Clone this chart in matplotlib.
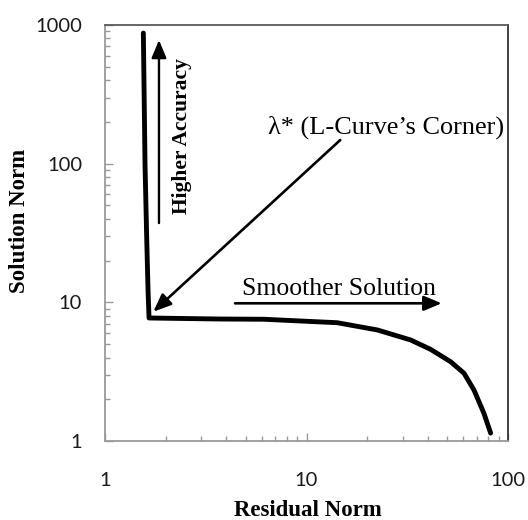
import matplotlib
matplotlib.use("Agg")
import matplotlib.pyplot as plt
from matplotlib.ticker import FixedLocator, LogLocator, NullFormatter

# L-curve: residual norm vs. solution norm
residual_norm = [1.55, 1.58, 1.61, 1.635, 1.654, 3.72, 6.15, 10.0, 14.2, 22.5,
                 32.9, 41.3, 51.9, 60.5, 67.8, 76.0, 82.0]
solution_norm = [875, 98, 29.6, 12.3, 7.71, 7.58, 7.55, 7.3, 7.13, 6.32,
                 5.35, 4.58, 3.73, 3.08, 2.33, 1.58, 1.14]

x_tick_values = [1, 10, 100]
x_tick_labels = ["1", "10", "100"]
y_tick_values = [1, 10, 100, 1000]
y_tick_labels = ["1", "10", "100", "1000"]

x_label = "Residual Norm"
y_label = "Solution Norm"
corner_text = "\u03bb* (L-Curve\u2019s Corner)"
smooth_text = "Smoother Solution"
accuracy_text = "Higher Accuracy"

# annotation arrows (data coordinates): (start, end)
accuracy_arrow = ((1.853, 37.3), (1.853, 779))
corner_arrow = ((14.7, 148), (1.737, 8.56))
smooth_arrow = ((4.42, 9.84), (46.9, 9.84))

SERIF = "Liberation Serif"
TICK_FONT = "Lato"
GRAY = "#9a9a9a"

fig = plt.figure(figsize=(5.28, 5.20), dpi=100)
ax = fig.add_axes([105 / 528, 79 / 520, 403 / 528, 416 / 520])

ax.plot(residual_norm, solution_norm, color="black", lw=3.5,
        solid_capstyle="round", solid_joinstyle="round")

ax.set_xscale("log")
ax.set_yscale("log")
ax.set_xlim(1, 100)
ax.set_ylim(1, 1000)

ax.xaxis.set_major_locator(FixedLocator(x_tick_values))
ax.set_xticklabels(x_tick_labels)
ax.yaxis.set_major_locator(FixedLocator(y_tick_values))
ax.set_yticklabels(y_tick_labels)
ax.xaxis.set_minor_locator(LogLocator(base=10, subs=range(2, 10)))
ax.yaxis.set_minor_locator(LogLocator(base=10, subs=range(2, 10)))
ax.xaxis.set_minor_formatter(NullFormatter())
ax.yaxis.set_minor_formatter(NullFormatter())

ax.tick_params(which="both", direction="in", color=GRAY, width=1.0,
               labelsize=14.5, labelcolor="#1a1a1a")
ax.tick_params(which="major", length=5.8)
ax.tick_params(which="minor", length=3.3)
ax.tick_params(axis="y", which="major", pad=16.5)
ax.tick_params(axis="x", which="major", pad=22)
for lab in ax.get_xticklabels() + ax.get_yticklabels():
    lab.set_fontfamily(TICK_FONT)

ax.spines["left"].set_color(GRAY)
ax.spines["bottom"].set_color(GRAY)
ax.spines["top"].set_color("#5a5a5a")
ax.spines["right"].set_color("#333333")
for sp in ax.spines.values():
    sp.set_linewidth(1.3)

ax.set_xlabel(x_label, fontfamily=SERIF, fontweight="bold", fontsize=16.5)
ax.set_ylabel(y_label, fontfamily=SERIF, fontweight="bold", fontsize=16.5)
ax.xaxis.set_label_coords(0.503, -0.166)
ax.xaxis.label.set_verticalalignment("center")
ax.yaxis.set_label_coords(-0.211, 0.528)
ax.yaxis.label.set_verticalalignment("center")

arrow_style = "-|>,head_length=0.6,head_width=0.25"
for (start, end), lw in ((accuracy_arrow, 1.7), (corner_arrow, 1.9), (smooth_arrow, 1.9)):
    ax.annotate("", xy=end, xytext=start, xycoords="data", textcoords="data",
                arrowprops=dict(arrowstyle=arrow_style, mutation_scale=18,
                                color="black", lw=lw, shrinkA=0, shrinkB=0))

ax.text(0.4045, 0.740, corner_text, transform=ax.transAxes, fontfamily=SERIF,
        fontsize=18.9, ha="left", va="baseline")
ax.text(0.339, 0.351, smooth_text, transform=ax.transAxes, fontfamily=SERIF,
        fontsize=18.5, ha="left", va="baseline")
ax.text(0.191, 0.732, accuracy_text, transform=ax.transAxes, fontfamily=SERIF,
        fontweight="bold", fontsize=15.5, rotation=90, ha="center", va="center")

fig.savefig("out.png", dpi=100, facecolor="white")
